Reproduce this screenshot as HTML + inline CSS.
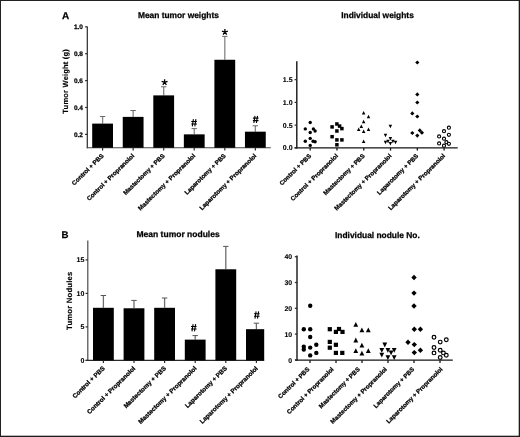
<!DOCTYPE html>
<html><head><meta charset="utf-8"><title>Figure</title>
<style>
html,body{margin:0;padding:0;background:#fff;}
body{width:520px;height:437px;overflow:hidden;font-family:"Liberation Sans",sans-serif;}
svg{display:block;will-change:transform;}
</style></head><body>
<svg width="520" height="437" viewBox="0 0 520 437" font-family="Liberation Sans, sans-serif" font-weight="bold" text-rendering="geometricPrecision" fill="#000">
<rect x="0" y="0" width="520" height="437" fill="#fff"/>
<rect x="0.5" y="0.5" width="519" height="436" fill="none" stroke="#222" stroke-width="1"/>
<rect x="518.7" y="0" width="1.3" height="437" fill="#1c1c1c"/><rect x="0" y="435.7" width="520" height="1.3" fill="#1c1c1c"/>
<line x1="87.30" y1="26.50" x2="87.30" y2="148.30" stroke="#2a2a2a" stroke-width="1.2"/>
<line x1="86.80" y1="147.80" x2="270.80" y2="147.80" stroke="#444" stroke-width="1.1"/>
<line x1="85.10" y1="134.36" x2="87.30" y2="134.36" stroke="#2a2a2a" stroke-width="1.2"/>
<text x="83.00" y="136.71" font-size="6.5" text-anchor="end" stroke="#000" stroke-width="0.25" >0.2</text>
<line x1="85.10" y1="107.48" x2="87.30" y2="107.48" stroke="#2a2a2a" stroke-width="1.2"/>
<text x="83.00" y="109.83" font-size="6.5" text-anchor="end" stroke="#000" stroke-width="0.25" >0.4</text>
<line x1="85.10" y1="80.60" x2="87.30" y2="80.60" stroke="#2a2a2a" stroke-width="1.2"/>
<text x="83.00" y="82.95" font-size="6.5" text-anchor="end" stroke="#000" stroke-width="0.25" >0.6</text>
<line x1="85.10" y1="53.72" x2="87.30" y2="53.72" stroke="#2a2a2a" stroke-width="1.2"/>
<text x="83.00" y="56.07" font-size="6.5" text-anchor="end" stroke="#000" stroke-width="0.25" >0.8</text>
<line x1="85.10" y1="26.84" x2="87.30" y2="26.84" stroke="#2a2a2a" stroke-width="1.2"/>
<text x="83.00" y="29.19" font-size="6.5" text-anchor="end" stroke="#000" stroke-width="0.25" >1.0</text>
<line x1="102.60" y1="116.50" x2="102.60" y2="123.61" stroke="#858585" stroke-width="1.3"/>
<line x1="99.90" y1="116.50" x2="105.30" y2="116.50" stroke="#6a6a6a" stroke-width="1.0"/>
<rect x="92.20" y="123.61" width="20.8" height="24.19" fill="#000"/>
<line x1="102.60" y1="147.80" x2="102.60" y2="150.40" stroke="#2a2a2a" stroke-width="1.2"/>
<line x1="133.15" y1="110.50" x2="133.15" y2="116.89" stroke="#858585" stroke-width="1.3"/>
<line x1="130.45" y1="110.50" x2="135.85" y2="110.50" stroke="#6a6a6a" stroke-width="1.0"/>
<rect x="122.75" y="116.89" width="20.8" height="30.91" fill="#000"/>
<line x1="133.15" y1="147.80" x2="133.15" y2="150.40" stroke="#2a2a2a" stroke-width="1.2"/>
<line x1="163.70" y1="86.80" x2="163.70" y2="95.38" stroke="#858585" stroke-width="1.3"/>
<line x1="161.00" y1="86.80" x2="166.40" y2="86.80" stroke="#6a6a6a" stroke-width="1.0"/>
<rect x="153.30" y="95.38" width="20.8" height="52.42" fill="#000"/>
<line x1="163.70" y1="147.80" x2="163.70" y2="150.40" stroke="#2a2a2a" stroke-width="1.2"/>
<line x1="194.25" y1="128.60" x2="194.25" y2="134.36" stroke="#858585" stroke-width="1.3"/>
<line x1="191.55" y1="128.60" x2="196.95" y2="128.60" stroke="#6a6a6a" stroke-width="1.0"/>
<rect x="183.85" y="134.36" width="20.8" height="13.44" fill="#000"/>
<line x1="194.25" y1="147.80" x2="194.25" y2="150.40" stroke="#2a2a2a" stroke-width="1.2"/>
<line x1="224.80" y1="36.40" x2="224.80" y2="59.77" stroke="#858585" stroke-width="1.3"/>
<line x1="222.10" y1="36.40" x2="227.50" y2="36.40" stroke="#6a6a6a" stroke-width="1.0"/>
<rect x="214.40" y="59.77" width="20.8" height="88.03" fill="#000"/>
<line x1="224.80" y1="147.80" x2="224.80" y2="150.40" stroke="#2a2a2a" stroke-width="1.2"/>
<line x1="255.35" y1="125.80" x2="255.35" y2="131.67" stroke="#858585" stroke-width="1.3"/>
<line x1="252.65" y1="125.80" x2="258.05" y2="125.80" stroke="#6a6a6a" stroke-width="1.0"/>
<rect x="244.95" y="131.67" width="20.8" height="16.13" fill="#000"/>
<line x1="255.35" y1="147.80" x2="255.35" y2="150.40" stroke="#2a2a2a" stroke-width="1.2"/>
<path d="M164.60 82.30L164.60 79.20M164.60 82.30L167.55 81.34M164.60 82.30L166.42 84.81M164.60 82.30L162.78 84.81M164.60 82.30L161.65 81.34" stroke="#000" stroke-width="1.3" fill="none"/>
<path d="M224.90 32.00L224.90 28.90M224.90 32.00L227.85 31.04M224.90 32.00L226.72 34.51M224.90 32.00L223.08 34.51M224.90 32.00L221.95 31.04" stroke="#000" stroke-width="1.3" fill="none"/>
<path d="M192.30 126.40L193.40 119.20M194.80 126.40L195.90 119.20M191.30 121.55L196.90 121.55M191.30 124.05L196.90 124.05" stroke="#000" stroke-width="1.1" fill="none"/>
<path d="M253.90 123.00L255.00 115.80M256.40 123.00L257.50 115.80M252.90 118.15L258.50 118.15M252.90 120.65L258.50 120.65" stroke="#000" stroke-width="1.1" fill="none"/>
<text x="104.10" y="156.30" font-size="6.2" text-anchor="end" transform="rotate(-44.6 104.10 156.30)" stroke="#000" stroke-width="0.25" >Control + PBS</text>
<text x="134.65" y="156.30" font-size="6.2" text-anchor="end" transform="rotate(-44.6 134.65 156.30)" stroke="#000" stroke-width="0.25" >Control + Propranolol</text>
<text x="165.20" y="156.30" font-size="6.2" text-anchor="end" transform="rotate(-44.6 165.20 156.30)" stroke="#000" stroke-width="0.25" >Mastectomy + PBS</text>
<text x="195.75" y="156.30" font-size="6.2" text-anchor="end" transform="rotate(-44.6 195.75 156.30)" stroke="#000" stroke-width="0.25" >Mastectomy + Propranolol</text>
<text x="226.30" y="156.30" font-size="6.2" text-anchor="end" transform="rotate(-44.6 226.30 156.30)" stroke="#000" stroke-width="0.25" >Laparotomy + PBS</text>
<text x="256.85" y="156.30" font-size="6.2" text-anchor="end" transform="rotate(-44.6 256.85 156.30)" stroke="#000" stroke-width="0.25" >Laparotomy + Propranolol</text>
<text x="67.70" y="81.30" font-size="7.55" text-anchor="middle" transform="rotate(-90 67.70 81.30)" stroke="#000"  stroke-width="0.12" letter-spacing="0.18">Tumor Weight (g)</text>
<text x="178.40" y="18.30" font-size="8.4" text-anchor="middle" stroke="#000" stroke-width="0.25" >Mean tumor weights</text>
<text x="61.90" y="19.35" font-size="10" text-anchor="start" stroke="#000" stroke-width="0.25" >A</text>
<line x1="87.80" y1="240.60" x2="87.80" y2="360.90" stroke="#4a4a4a" stroke-width="1.2"/>
<line x1="85.60" y1="360.40" x2="264.20" y2="360.40" stroke="#2a2a2a" stroke-width="1.2"/>
<line x1="85.60" y1="360.40" x2="87.80" y2="360.40" stroke="#2a2a2a" stroke-width="1.2"/>
<text x="84.30" y="362.90" font-size="7.0" text-anchor="end" stroke="#000"  stroke-width="0.12">0</text>
<line x1="85.60" y1="326.90" x2="87.80" y2="326.90" stroke="#2a2a2a" stroke-width="1.2"/>
<text x="84.30" y="329.40" font-size="7.0" text-anchor="end" stroke="#000"  stroke-width="0.12">5</text>
<line x1="85.60" y1="293.40" x2="87.80" y2="293.40" stroke="#2a2a2a" stroke-width="1.2"/>
<text x="84.30" y="295.90" font-size="7.0" text-anchor="end" stroke="#000"  stroke-width="0.12">10</text>
<line x1="85.60" y1="259.90" x2="87.80" y2="259.90" stroke="#2a2a2a" stroke-width="1.2"/>
<text x="84.30" y="262.40" font-size="7.0" text-anchor="end" stroke="#000"  stroke-width="0.12">15</text>
<clipPath id="cb"><rect x="0" y="220" width="264.2" height="217"/></clipPath><g clip-path="url(#cb)">
<line x1="103.40" y1="295.50" x2="103.40" y2="307.80" stroke="#6e6e6e" stroke-width="1.3"/>
<line x1="100.70" y1="295.50" x2="106.10" y2="295.50" stroke="#555" stroke-width="1.0"/>
<rect x="93.00" y="307.80" width="20.8" height="52.60" fill="#000"/>
<line x1="134.00" y1="300.40" x2="134.00" y2="308.27" stroke="#6e6e6e" stroke-width="1.3"/>
<line x1="131.30" y1="300.40" x2="136.70" y2="300.40" stroke="#555" stroke-width="1.0"/>
<rect x="123.60" y="308.27" width="20.8" height="52.13" fill="#000"/>
<line x1="164.60" y1="298.00" x2="164.60" y2="307.80" stroke="#6e6e6e" stroke-width="1.3"/>
<line x1="161.90" y1="298.00" x2="167.30" y2="298.00" stroke="#555" stroke-width="1.0"/>
<rect x="154.20" y="307.80" width="20.8" height="52.60" fill="#000"/>
<line x1="195.20" y1="335.60" x2="195.20" y2="339.63" stroke="#6e6e6e" stroke-width="1.3"/>
<line x1="192.50" y1="335.60" x2="197.90" y2="335.60" stroke="#555" stroke-width="1.0"/>
<rect x="184.80" y="339.63" width="20.8" height="20.77" fill="#000"/>
<line x1="225.80" y1="246.40" x2="225.80" y2="269.28" stroke="#6e6e6e" stroke-width="1.3"/>
<line x1="223.10" y1="246.40" x2="228.50" y2="246.40" stroke="#555" stroke-width="1.0"/>
<rect x="215.40" y="269.28" width="20.8" height="91.12" fill="#000"/>
<line x1="256.40" y1="323.20" x2="256.40" y2="329.18" stroke="#6e6e6e" stroke-width="1.3"/>
<line x1="253.70" y1="323.20" x2="259.10" y2="323.20" stroke="#555" stroke-width="1.0"/>
<rect x="246.00" y="329.18" width="20.8" height="31.22" fill="#000"/>
</g>
<line x1="103.40" y1="360.40" x2="103.40" y2="363.00" stroke="#2a2a2a" stroke-width="1.2"/>
<line x1="134.00" y1="360.40" x2="134.00" y2="363.00" stroke="#2a2a2a" stroke-width="1.2"/>
<line x1="164.60" y1="360.40" x2="164.60" y2="363.00" stroke="#2a2a2a" stroke-width="1.2"/>
<line x1="195.20" y1="360.40" x2="195.20" y2="363.00" stroke="#2a2a2a" stroke-width="1.2"/>
<line x1="225.80" y1="360.40" x2="225.80" y2="363.00" stroke="#2a2a2a" stroke-width="1.2"/>
<line x1="256.40" y1="360.40" x2="256.40" y2="363.00" stroke="#2a2a2a" stroke-width="1.2"/>
<path d="M192.00 331.40L193.10 324.20M194.50 331.40L195.60 324.20M191.00 326.55L196.60 326.55M191.00 329.05L196.60 329.05" stroke="#000" stroke-width="1.1" fill="none"/>
<path d="M255.00 318.60L256.10 311.40M257.50 318.60L258.60 311.40M254.00 313.75L259.60 313.75M254.00 316.25L259.60 316.25" stroke="#000" stroke-width="1.1" fill="none"/>
<text x="105.20" y="368.90" font-size="6.3" text-anchor="end" transform="rotate(-44.6 105.20 368.90)" stroke="#000" stroke-width="0.25" >Control + PBS</text>
<text x="135.80" y="368.90" font-size="6.3" text-anchor="end" transform="rotate(-44.6 135.80 368.90)" stroke="#000" stroke-width="0.25" >Control + Propranolol</text>
<text x="166.40" y="368.90" font-size="6.3" text-anchor="end" transform="rotate(-44.6 166.40 368.90)" stroke="#000" stroke-width="0.25" >Mastectomy + PBS</text>
<text x="197.00" y="368.90" font-size="6.3" text-anchor="end" transform="rotate(-44.6 197.00 368.90)" stroke="#000" stroke-width="0.25" >Mastectomy + Propranolol</text>
<text x="227.60" y="368.90" font-size="6.3" text-anchor="end" transform="rotate(-44.6 227.60 368.90)" stroke="#000" stroke-width="0.25" >Laparotomy + PBS</text>
<text x="258.20" y="368.90" font-size="6.3" text-anchor="end" transform="rotate(-44.6 258.20 368.90)" stroke="#000" stroke-width="0.25" >Laparotomy + Propranolol</text>
<text x="72.20" y="300.70" font-size="7.7" text-anchor="middle" transform="rotate(-90 72.20 300.70)" stroke="#000"  stroke-width="0.12" letter-spacing="0.2">Tumor Nodules</text>
<text x="178.10" y="237.20" font-size="8.5" text-anchor="middle" stroke="#000" stroke-width="0.25" >Mean tumor nodules</text>
<text x="61.40" y="238.45" font-size="9.7" text-anchor="start" stroke="#000" stroke-width="0.25" >B</text>
<line x1="296.80" y1="61.20" x2="296.80" y2="148.50" stroke="#151515" stroke-width="1.4"/>
<line x1="294.60" y1="147.90" x2="457.70" y2="147.90" stroke="#151515" stroke-width="1.3"/>
<line x1="294.60" y1="147.90" x2="296.80" y2="147.90" stroke="#2a2a2a" stroke-width="1.2"/>
<text x="292.60" y="150.35" font-size="7.0" text-anchor="end" stroke="#000"  stroke-width="0.12">0.0</text>
<line x1="294.60" y1="125.15" x2="296.80" y2="125.15" stroke="#2a2a2a" stroke-width="1.2"/>
<text x="292.60" y="127.60" font-size="7.0" text-anchor="end" stroke="#000"  stroke-width="0.12">0.5</text>
<line x1="294.60" y1="102.40" x2="296.80" y2="102.40" stroke="#2a2a2a" stroke-width="1.2"/>
<text x="292.60" y="104.85" font-size="7.0" text-anchor="end" stroke="#000"  stroke-width="0.12">1.0</text>
<line x1="294.60" y1="79.65" x2="296.80" y2="79.65" stroke="#2a2a2a" stroke-width="1.2"/>
<text x="292.60" y="82.10" font-size="7.0" text-anchor="end" stroke="#000"  stroke-width="0.12">1.5</text>
<line x1="310.20" y1="147.90" x2="310.20" y2="150.60" stroke="#151515" stroke-width="1.3"/>
<line x1="336.98" y1="147.90" x2="336.98" y2="150.60" stroke="#151515" stroke-width="1.3"/>
<line x1="363.76" y1="147.90" x2="363.76" y2="150.60" stroke="#151515" stroke-width="1.3"/>
<line x1="390.54" y1="147.90" x2="390.54" y2="150.60" stroke="#151515" stroke-width="1.3"/>
<line x1="417.32" y1="147.90" x2="417.32" y2="150.60" stroke="#151515" stroke-width="1.3"/>
<line x1="444.10" y1="147.90" x2="444.10" y2="150.60" stroke="#151515" stroke-width="1.3"/>
<circle cx="310.20" cy="122.50" r="1.7" fill="#000"/>
<circle cx="305.30" cy="128.90" r="1.7" fill="#000"/>
<circle cx="313.40" cy="128.90" r="1.7" fill="#000"/>
<circle cx="315.10" cy="131.00" r="1.7" fill="#000"/>
<circle cx="310.20" cy="132.50" r="1.7" fill="#000"/>
<circle cx="310.20" cy="138.40" r="1.7" fill="#000"/>
<circle cx="305.30" cy="141.30" r="1.7" fill="#000"/>
<circle cx="313.10" cy="141.30" r="1.7" fill="#000"/>
<circle cx="315.10" cy="141.70" r="1.7" fill="#000"/>
<circle cx="310.20" cy="145.40" r="1.7" fill="#000"/>
<rect x="335.15" y="122.25" width="3.5" height="3.5" fill="#000"/>
<rect x="330.35" y="125.15" width="3.5" height="3.5" fill="#000"/>
<rect x="337.85" y="124.35" width="3.5" height="3.5" fill="#000"/>
<rect x="340.15" y="126.85" width="3.5" height="3.5" fill="#000"/>
<rect x="335.15" y="129.25" width="3.5" height="3.5" fill="#000"/>
<rect x="330.35" y="134.95" width="3.5" height="3.5" fill="#000"/>
<rect x="335.15" y="138.15" width="3.5" height="3.5" fill="#000"/>
<rect x="340.15" y="138.15" width="3.5" height="3.5" fill="#000"/>
<rect x="335.15" y="143.05" width="3.5" height="3.5" fill="#000"/>
<polygon points="361.85,114.55 365.35,114.55 363.60,111.05" fill="#000"/>
<polygon points="366.75,118.25 370.25,118.25 368.50,114.75" fill="#000"/>
<polygon points="361.85,123.25 365.35,123.25 363.60,119.75" fill="#000"/>
<polygon points="359.55,128.05 363.05,128.05 361.30,124.55" fill="#000"/>
<polygon points="356.95,130.95 360.45,130.95 358.70,127.45" fill="#000"/>
<polygon points="366.75,130.95 370.25,130.95 368.50,127.45" fill="#000"/>
<polygon points="361.85,133.05 365.35,133.05 363.60,129.55" fill="#000"/>
<polygon points="361.85,143.05 365.35,143.05 363.60,139.55" fill="#000"/>
<polygon points="388.65,124.75 392.15,124.75 390.40,128.25" fill="#000"/>
<polygon points="383.75,133.85 387.25,133.85 385.50,137.35" fill="#000"/>
<polygon points="388.65,136.95 392.15,136.95 390.40,140.45" fill="#000"/>
<polygon points="383.75,140.75 387.25,140.75 385.50,144.25" fill="#000"/>
<polygon points="386.25,139.75 389.75,139.75 388.00,143.25" fill="#000"/>
<polygon points="391.15,139.75 394.65,139.75 392.90,143.25" fill="#000"/>
<polygon points="393.75,140.75 397.25,140.75 395.50,144.25" fill="#000"/>
<polygon points="388.65,142.05 392.15,142.05 390.40,145.55" fill="#000"/>
<polygon points="415.20,62.50 417.30,60.40 419.40,62.50 417.30,64.60" fill="#000"/>
<polygon points="415.20,94.40 417.30,92.30 419.40,94.40 417.30,96.50" fill="#000"/>
<polygon points="415.20,102.50 417.30,100.40 419.40,102.50 417.30,104.60" fill="#000"/>
<polygon points="410.20,113.40 412.30,111.30 414.40,113.40 412.30,115.50" fill="#000"/>
<polygon points="415.20,116.50 417.30,114.40 419.40,116.50 417.30,118.60" fill="#000"/>
<polygon points="410.20,133.00 412.30,130.90 414.40,133.00 412.30,135.10" fill="#000"/>
<polygon points="415.20,135.60 417.30,133.50 419.40,135.60 417.30,137.70" fill="#000"/>
<polygon points="417.70,130.40 419.80,128.30 421.90,130.40 419.80,132.50" fill="#000"/>
<polygon points="419.80,132.70 421.90,130.60 424.00,132.70 421.90,134.80" fill="#000"/>
<circle cx="448.90" cy="127.70" r="1.55" fill="#fff" stroke="#000" stroke-width="1.1"/>
<circle cx="444.00" cy="131.20" r="1.55" fill="#fff" stroke="#000" stroke-width="1.1"/>
<circle cx="448.90" cy="134.80" r="1.55" fill="#fff" stroke="#000" stroke-width="1.1"/>
<circle cx="439.10" cy="136.40" r="1.55" fill="#fff" stroke="#000" stroke-width="1.1"/>
<circle cx="444.00" cy="138.70" r="1.55" fill="#fff" stroke="#000" stroke-width="1.1"/>
<circle cx="439.10" cy="143.40" r="1.55" fill="#fff" stroke="#000" stroke-width="1.1"/>
<circle cx="446.40" cy="142.20" r="1.55" fill="#fff" stroke="#000" stroke-width="1.1"/>
<circle cx="448.90" cy="143.80" r="1.55" fill="#fff" stroke="#000" stroke-width="1.1"/>
<circle cx="444.00" cy="145.70" r="1.55" fill="#fff" stroke="#000" stroke-width="1.1"/>
<text x="311.70" y="156.40" font-size="6.2" text-anchor="end" transform="rotate(-44.6 311.70 156.40)" stroke="#000" stroke-width="0.25" >Control + PBS</text>
<text x="338.48" y="156.40" font-size="6.2" text-anchor="end" transform="rotate(-44.6 338.48 156.40)" stroke="#000" stroke-width="0.25" >Control + Propranolol</text>
<text x="365.26" y="156.40" font-size="6.2" text-anchor="end" transform="rotate(-44.6 365.26 156.40)" stroke="#000" stroke-width="0.25" >Mastectomy + PBS</text>
<text x="392.04" y="156.40" font-size="6.2" text-anchor="end" transform="rotate(-44.6 392.04 156.40)" stroke="#000" stroke-width="0.25" >Mastectomy + Propranolol</text>
<text x="418.82" y="156.40" font-size="6.2" text-anchor="end" transform="rotate(-44.6 418.82 156.40)" stroke="#000" stroke-width="0.25" >Laparotomy + PBS</text>
<text x="445.60" y="156.40" font-size="6.2" text-anchor="end" transform="rotate(-44.6 445.60 156.40)" stroke="#000" stroke-width="0.25" >Laparotomy + Propranolol</text>
<text x="377.50" y="18.40" font-size="8.4" text-anchor="middle" stroke="#000" stroke-width="0.25" >Individual weights</text>
<line x1="297.00" y1="255.50" x2="297.00" y2="360.80" stroke="#151515" stroke-width="1.4"/>
<line x1="295.00" y1="360.20" x2="452.80" y2="360.20" stroke="#151515" stroke-width="1.3"/>
<line x1="294.80" y1="359.90" x2="297.20" y2="359.90" stroke="#2a2a2a" stroke-width="1.2"/>
<text x="292.20" y="362.50" font-size="6.9" text-anchor="end" stroke="#000"  stroke-width="0.1">0</text>
<line x1="294.80" y1="334.10" x2="297.20" y2="334.10" stroke="#2a2a2a" stroke-width="1.2"/>
<text x="292.20" y="336.70" font-size="6.9" text-anchor="end" stroke="#000"  stroke-width="0.1">10</text>
<line x1="294.80" y1="308.30" x2="297.20" y2="308.30" stroke="#2a2a2a" stroke-width="1.2"/>
<text x="292.20" y="310.90" font-size="6.9" text-anchor="end" stroke="#000"  stroke-width="0.1">20</text>
<line x1="294.80" y1="282.50" x2="297.20" y2="282.50" stroke="#2a2a2a" stroke-width="1.2"/>
<text x="292.20" y="285.10" font-size="6.9" text-anchor="end" stroke="#000"  stroke-width="0.1">30</text>
<line x1="294.80" y1="256.70" x2="297.20" y2="256.70" stroke="#2a2a2a" stroke-width="1.2"/>
<text x="292.20" y="259.30" font-size="6.9" text-anchor="end" stroke="#000"  stroke-width="0.1">40</text>
<line x1="310.00" y1="360.20" x2="310.00" y2="362.90" stroke="#151515" stroke-width="1.3"/>
<line x1="336.00" y1="360.20" x2="336.00" y2="362.90" stroke="#151515" stroke-width="1.3"/>
<line x1="362.00" y1="360.20" x2="362.00" y2="362.90" stroke="#151515" stroke-width="1.3"/>
<line x1="388.00" y1="360.20" x2="388.00" y2="362.90" stroke="#151515" stroke-width="1.3"/>
<line x1="414.00" y1="360.20" x2="414.00" y2="362.90" stroke="#151515" stroke-width="1.3"/>
<line x1="440.00" y1="360.20" x2="440.00" y2="362.90" stroke="#151515" stroke-width="1.3"/>
<circle cx="310.20" cy="305.80" r="2.2" fill="#000"/>
<circle cx="303.80" cy="329.30" r="2.2" fill="#000"/>
<circle cx="310.20" cy="329.30" r="2.2" fill="#000"/>
<circle cx="310.20" cy="337.00" r="2.2" fill="#000"/>
<circle cx="316.30" cy="344.80" r="2.2" fill="#000"/>
<circle cx="303.80" cy="346.80" r="2.2" fill="#000"/>
<circle cx="303.80" cy="349.60" r="2.2" fill="#000"/>
<circle cx="310.20" cy="347.60" r="2.2" fill="#000"/>
<circle cx="316.30" cy="352.90" r="2.2" fill="#000"/>
<circle cx="310.20" cy="355.40" r="2.2" fill="#000"/>
<rect x="327.70" y="327.10" width="4.2" height="4.2" fill="#000"/>
<rect x="333.80" y="329.80" width="4.2" height="4.2" fill="#000"/>
<rect x="336.90" y="326.90" width="4.2" height="4.2" fill="#000"/>
<rect x="340.40" y="329.80" width="4.2" height="4.2" fill="#000"/>
<rect x="327.70" y="339.80" width="4.2" height="4.2" fill="#000"/>
<rect x="333.80" y="342.70" width="4.2" height="4.2" fill="#000"/>
<rect x="327.70" y="345.60" width="4.2" height="4.2" fill="#000"/>
<rect x="333.80" y="350.80" width="4.2" height="4.2" fill="#000"/>
<rect x="340.20" y="350.80" width="4.2" height="4.2" fill="#000"/>
<polygon points="353.40,326.80 358.20,326.80 355.80,322.00" fill="#000"/>
<polygon points="359.50,332.20 364.30,332.20 361.90,327.40" fill="#000"/>
<polygon points="365.90,332.20 370.70,332.20 368.30,327.40" fill="#000"/>
<polygon points="353.40,342.40 358.20,342.40 355.80,337.60" fill="#000"/>
<polygon points="359.50,347.50 364.30,347.50 361.90,342.70" fill="#000"/>
<polygon points="353.40,353.00 358.20,353.00 355.80,348.20" fill="#000"/>
<polygon points="365.90,353.00 370.70,353.00 368.30,348.20" fill="#000"/>
<polygon points="359.50,355.60 364.30,355.60 361.90,350.80" fill="#000"/>
<polygon points="382.40,342.60 387.20,342.60 384.80,347.40" fill="#000"/>
<polygon points="379.40,347.90 384.20,347.90 381.80,352.70" fill="#000"/>
<polygon points="385.50,347.90 390.30,347.90 387.90,352.70" fill="#000"/>
<polygon points="391.80,347.90 396.60,347.90 394.20,352.70" fill="#000"/>
<polygon points="388.70,350.40 393.50,350.40 391.10,355.20" fill="#000"/>
<polygon points="379.40,352.70 384.20,352.70 381.80,357.50" fill="#000"/>
<polygon points="385.50,355.20 390.30,355.20 387.90,360.00" fill="#000"/>
<polygon points="391.80,355.20 396.60,355.20 394.20,360.00" fill="#000"/>
<polygon points="411.30,277.50 414.00,274.80 416.70,277.50 414.00,280.20" fill="#000"/>
<polygon points="411.30,293.10 414.00,290.40 416.70,293.10 414.00,295.80" fill="#000"/>
<polygon points="411.30,306.00 414.00,303.30 416.70,306.00 414.00,308.70" fill="#000"/>
<polygon points="411.60,329.20 414.30,326.50 417.00,329.20 414.30,331.90" fill="#000"/>
<polygon points="417.70,329.20 420.40,326.50 423.10,329.20 420.40,331.90" fill="#000"/>
<polygon points="405.30,342.30 408.00,339.60 410.70,342.30 408.00,345.00" fill="#000"/>
<polygon points="411.60,344.60 414.30,341.90 417.00,344.60 414.30,347.30" fill="#000"/>
<polygon points="417.70,350.20 420.40,347.50 423.10,350.20 420.40,352.90" fill="#000"/>
<polygon points="411.60,352.60 414.30,349.90 417.00,352.60 414.30,355.30" fill="#000"/>
<circle cx="434.00" cy="337.30" r="1.85" fill="#fff" stroke="#000" stroke-width="1.2"/>
<circle cx="446.30" cy="339.80" r="1.85" fill="#fff" stroke="#000" stroke-width="1.2"/>
<circle cx="440.20" cy="342.10" r="1.85" fill="#fff" stroke="#000" stroke-width="1.2"/>
<circle cx="434.00" cy="347.50" r="1.85" fill="#fff" stroke="#000" stroke-width="1.2"/>
<circle cx="440.20" cy="350.20" r="1.85" fill="#fff" stroke="#000" stroke-width="1.2"/>
<circle cx="434.00" cy="352.90" r="1.85" fill="#fff" stroke="#000" stroke-width="1.2"/>
<circle cx="443.40" cy="352.90" r="1.85" fill="#fff" stroke="#000" stroke-width="1.2"/>
<circle cx="446.30" cy="355.20" r="1.85" fill="#fff" stroke="#000" stroke-width="1.2"/>
<circle cx="440.20" cy="357.50" r="1.85" fill="#fff" stroke="#000" stroke-width="1.2"/>
<text x="309.90" y="369.70" font-size="6.15" text-anchor="end" transform="rotate(-45 309.90 369.70)" stroke="#000" stroke-width="0.25" >Control + PBS</text>
<text x="334.10" y="369.70" font-size="6.15" text-anchor="end" transform="rotate(-45 334.10 369.70)" stroke="#000" stroke-width="0.25" >Control + Propranolol</text>
<text x="360.30" y="369.70" font-size="6.15" text-anchor="end" transform="rotate(-45 360.30 369.70)" stroke="#000" stroke-width="0.25" >Mastectomy + PBS</text>
<text x="387.30" y="369.70" font-size="6.15" text-anchor="end" transform="rotate(-45 387.30 369.70)" stroke="#000" stroke-width="0.25" >Mastectomy + Propranolol</text>
<text x="414.70" y="369.70" font-size="6.15" text-anchor="end" transform="rotate(-45 414.70 369.70)" stroke="#000" stroke-width="0.25" >Laparotomy + PBS</text>
<text x="442.90" y="369.70" font-size="6.15" text-anchor="end" transform="rotate(-45 442.90 369.70)" stroke="#000" stroke-width="0.25" >Laparotomy + Propranolol</text>
<text x="377.40" y="237.80" font-size="8.4" text-anchor="middle" stroke="#000" stroke-width="0.25" >Individual nodule No.</text>
</svg>
</body></html>
